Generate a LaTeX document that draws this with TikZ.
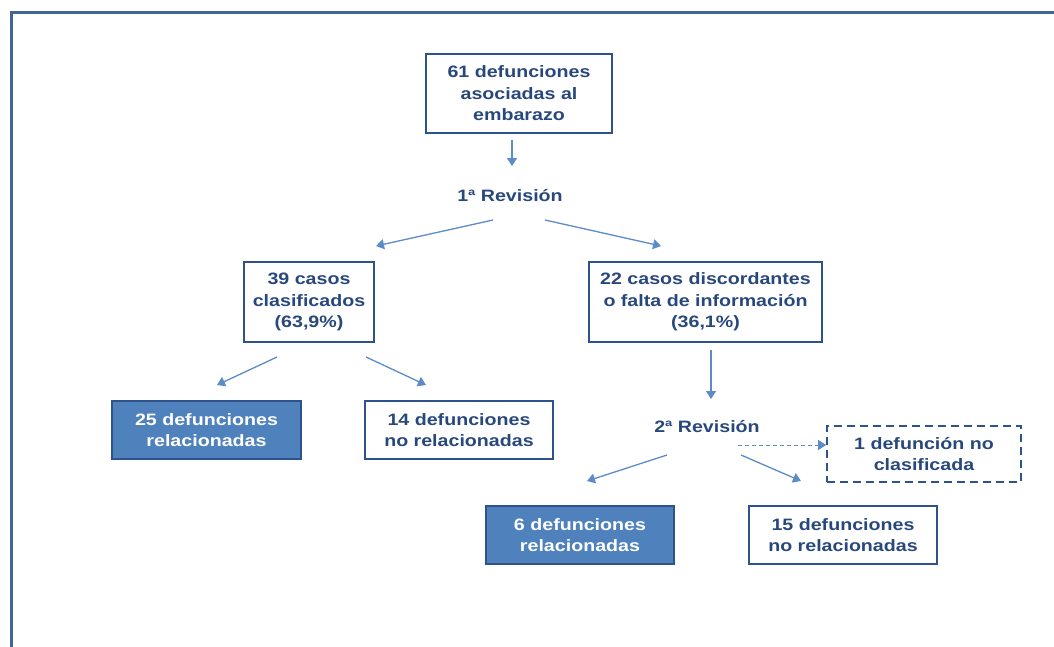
\documentclass[tikz,border=0pt]{standalone}
\usepackage{fontspec}
\setmainfont{Liberation Sans}
\newfontfamily\boxfont[FakeStretch=1.19]{Liberation Sans}
\usetikzlibrary{arrows.meta}
\definecolor{txtblue}{RGB}{40,72,124}
\definecolor{edgeblue}{RGB}{46,82,140}
\definecolor{fillblue}{RGB}{79,129,189}
\definecolor{arrowblue}{RGB}{92,140,200}
\definecolor{framecol}{RGB}{62,102,153}
\tikzset{
  lbl/.style={font=\boxfont\fontsize{16.5}{21.5}\selectfont\bfseries, text=txtblue, align=center, inner sep=0pt},
  box/.style={draw=edgeblue, line width=1.6pt, font=\boxfont\fontsize{16.5}{21.5}\selectfont\bfseries, text=txtblue, align=center, inner sep=0pt},
  filledbox/.style={box, fill=fillblue, text=white},
  dashbox/.style={box, dashed, dash pattern=on 8pt off 5pt},
  link/.style={draw=arrowblue, line width=1.3pt, -{Triangle[width=10pt,length=8pt]}},
  dlink/.style={link, dash pattern=on 4pt off 3pt, line width=1pt}
}
\begin{document}
\begin{tikzpicture}[x=1pt,y=-1pt]
\useasboundingbox (0,0) rectangle (1054,646);
% outer frame, cut off on the right and bottom
\draw[framecol, line width=3pt] (11,660) -- (11,12) -- (1070,12);

% boxes
\node[box, minimum width=186pt, minimum height=79pt] (top) at (519,93.5) {61 defunciones\\asociadas al\\embarazo};
\node[lbl] (rev1) at (510,196) {1ª Revisión};
\node[box, minimum width=130pt, minimum height=80pt] (clas) at (309,302) {39 casos\\clasificados\\(63,9\%)};
\node[box, minimum width=233pt, minimum height=80pt] (disc) at (705.5,302) {22 casos discordantes\\o falta de información\\(36,1\%)};
\node[filledbox, minimum width=189pt, minimum height=58pt] (rel1) at (206.5,430) {25 defunciones\\relacionadas};
\node[box, minimum width=188pt, minimum height=58pt] (norel1) at (459,430) {14 defunciones\\no relacionadas};
\node[lbl] (rev2) at (707,427) {2ª Revisión};
\node[dashbox, minimum width=194pt, minimum height=56pt] (nocl) at (924,454) {1 defunción no\\clasificada};
\node[filledbox, minimum width=188pt, minimum height=58pt] (rel2) at (580,535) {6 defunciones\\relacionadas};
\node[box, minimum width=188pt, minimum height=58pt] (norel2) at (843,535) {15 defunciones\\no relacionadas};

% free ends of the connectors
\coordinate (a1) at (512,140); \coordinate (a2) at (512,166);
\coordinate (b1) at (493,220); \coordinate (b2) at (376,246);
\coordinate (c1) at (545,220); \coordinate (c2) at (661,246);
\coordinate (d1) at (277,357); \coordinate (d2) at (217,385);
\coordinate (e1) at (366,357); \coordinate (e2) at (426,385);
\coordinate (f1) at (711,350); \coordinate (f2) at (711,399);
\coordinate (g1) at (738,445);
\coordinate (h1) at (667,455); \coordinate (h2) at (587,481);
\coordinate (i1) at (741,455); \coordinate (i2) at (801,481);

\draw[link] (a1) -- (a2);
\draw[link] (b1) -- (b2);
\draw[link] (c1) -- (c2);
\draw[link] (d1) -- (d2);
\draw[link] (e1) -- (e2);
\draw[link] (f1) -- (f2);
\draw[dlink] (g1) -- (nocl.west |- g1);
\draw[link] (h1) -- (h2);
\draw[link] (i1) -- (i2);
\end{tikzpicture}
\end{document}
